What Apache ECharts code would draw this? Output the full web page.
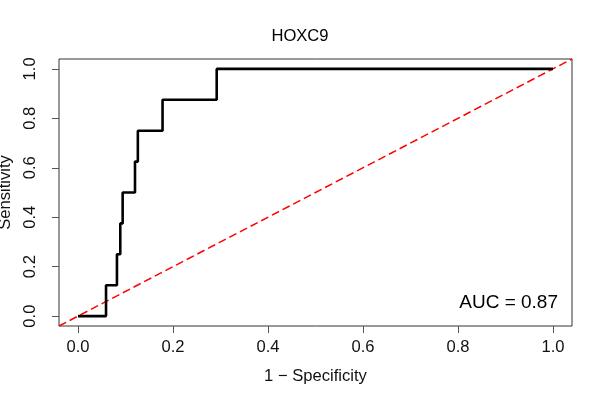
<!DOCTYPE html>
<html lang="en">
<head>
    <meta charset="UTF-8"/>
    <script src="https://cdn.jsdelivr.net/npm/echarts@6/dist/echarts.min.js"></script>
</head>
<body style="margin:0;background:#fff;">

<div id="main" style="width: 600px;height:400px;"></div>

<script type="text/javascript">
    // ROC points (1 - specificity, sensitivity)
    var fpr = [0, 0.059, 0.082, 0.089, 0.094, 0.120, 0.126, 0.178, 0.292, 1.0];
    var tpr = [0, 0.125, 0.250, 0.375, 0.500, 0.625, 0.750, 0.875, 1.000, 1.0];
    var tickValues = [0, 0.2, 0.4, 0.6, 0.8, 1.0];
    var aucText = 'AUC = 0.87';
    var chartTitle = 'HOXC9';

    var FONT = '"Liberation Sans", Arial, sans-serif';
    var FS = 16.6;

    var rocData = fpr.map(function (x, i) { return [x, tpr[i]]; });

    var myChart = echarts.init(document.getElementById('main'));

    var options = {
        animation: false,
        textStyle: { fontFamily: FONT },
        title: {
            text: chartTitle,
            left: 'center',
            top: 28,
            padding: 0,
            textStyle: { fontSize: FS, fontWeight: 'normal', color: '#000', fontFamily: FONT }
        },
        grid: {
            left: 59, right: 28, top: 59, bottom: 74,
            containLabel: false,
            outerBoundsMode: 'none',
            show: true,
            borderColor: '#333',
            borderWidth: 1
        },
        xAxis: {
            type: 'value',
            min: -0.04,
            max: 1.04,
            splitLine: { show: false },
            axisLine: { show: false, onZero: false },
            axisTick: {
                show: true, inside: false, length: 7, customValues: tickValues,
                lineStyle: { color: '#555' }
            },
            axisLabel: {
                customValues: tickValues,
                formatter: function (v) { return v.toFixed(1); },
                fontSize: FS, color: '#111', margin: 13, fontFamily: FONT
            },
            name: '1 \u2212 Specificity',
            nameLocation: 'middle',
            nameGap: 42,
            nameTextStyle: { fontSize: FS, color: '#111', fontFamily: FONT }
        },
        yAxis: {
            type: 'value',
            min: -0.04,
            max: 1.04,
            splitLine: { show: false },
            axisLine: { show: false, onZero: false },
            axisTick: {
                show: true, inside: false, length: 7, customValues: tickValues,
                lineStyle: { color: '#555' }
            },
            axisLabel: {
                customValues: tickValues,
                formatter: function (v) { return v.toFixed(1); },
                rotate: 90,
                fontSize: FS, color: '#111', margin: 20, fontFamily: FONT
            },
            name: 'Sensitivity',
            nameLocation: 'middle',
            nameGap: 41,
            nameTextStyle: { fontSize: FS, color: '#111', fontFamily: FONT }
        },
        graphic: [{
            type: 'text',
            x: 558,
            y: 303,
            style: {
                text: aucText,
                align: 'right',
                verticalAlign: 'middle',
                fontSize: 19,
                fontFamily: FONT,
                fill: '#000'
            }
        }],
        series: [
            {
                name: 'diagonal',
                type: 'line',
                data: [[-0.04, -0.04], [1.04, 1.04]],
                symbol: 'none',
                silent: true,
                lineStyle: { color: '#ff0000', width: 1.5, type: [8, 4] },
                z: 2
            },
            {
                name: 'ROC',
                type: 'line',
                step: 'end',
                data: rocData,
                symbol: 'none',
                lineStyle: { color: '#000', width: 2.6 },
                z: 3
            }
        ]
    };

    myChart.setOption(options);
</script>

</body>
</html>
